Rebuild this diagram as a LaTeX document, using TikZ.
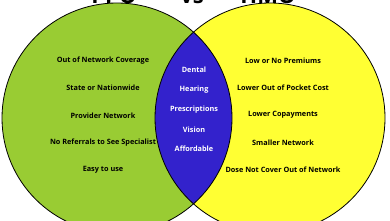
\documentclass[tikz,border=0pt]{standalone}
\usepackage{fontspec}
\setmainfont{Open Sans}
\definecolor{ppogreen}{RGB}{153,204,51}
\definecolor{hmoyellow}{RGB}{255,255,51}
\definecolor{bothblue}{RGB}{51,34,204}
\begin{document}
\begin{tikzpicture}[x=1pt,y=-1pt,
  item/.style={font=\fontsize{7.3}{8}\selectfont\bfseries, text=black, inner sep=0pt},
  mid/.style={font=\fontsize{7.3}{8}\selectfont\bfseries, text=white, inner sep=0pt},
  ttl/.style={font=\fontsize{22}{24}\selectfont\bfseries, inner sep=0pt, anchor=base}]
\useasboundingbox (0,0) rectangle (390,220);
\clip (0,0) rectangle (390,220);
\coordinate (cl) at (117,118);
\coordinate (cr) at (270,118);
\fill[ppogreen] (cl) circle[radius=115];
\fill[hmoyellow] (cr) circle[radius=115];
\begin{scope}
  \clip (cl) circle[radius=115];
  \fill[bothblue] (cr) circle[radius=115];
\end{scope}
\draw[line width=0.8pt] (cl) circle[radius=115];
\draw[line width=0.8pt] (cr) circle[radius=115];
% title (mostly cut off at top)
\node[ttl] (t1) at (114,3.3) {PPO};
\node[ttl] (t2) at (192,3.3) {vs};
\node[ttl] (t3) at (268,3.3) {HMO};
% left
\node[item] (l1) at (103,60.7) {Out of Network Coverage};
\node[item] (l2) at (103,88) {State or Nationwide};
\node[item] (l3) at (103,115.3) {Provider Network};
\node[item] (l4) at (103,142.6) {No Referrals to See Specialist};
\node[item] (l5) at (103,170) {Easy to use};
% right
\node[item] (r1) at (283,60.3) {Low or No Premiums};
\node[item] (r2) at (283,87.6) {Lower Out of Pocket Cost};
\node[item] (r3) at (283,115) {Lower Copayments};
\node[item] (r4) at (283,142.3) {Smaller Network};
\node[item] (r5) at (283,169.7) {Dose Not Cover Out of Network};
% middle
\node[mid] (m1) at (194,69.5) {Dental};
\node[mid] (m2) at (194,89.5) {Hearing};
\node[mid] (m3) at (194,109.5) {Prescriptions};
\node[mid] (m4) at (194,129.3) {Vision};
\node[mid] (m5) at (194,149) {Affordable};
\end{tikzpicture}
\end{document}
